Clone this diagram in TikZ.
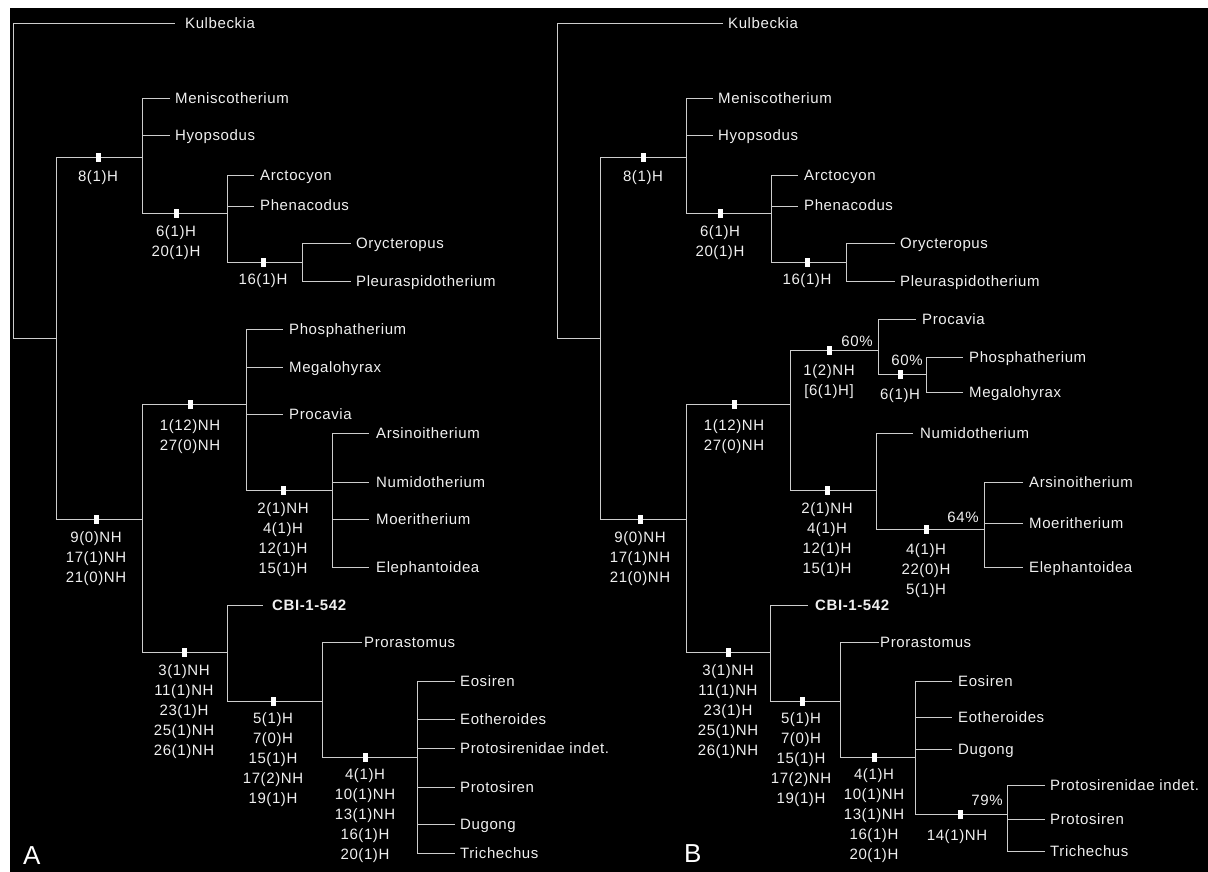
\documentclass[tikz,border=0pt]{standalone}
\usepackage{fontspec}
\setmainfont{Liberation Sans}
\newfontfamily\cladefam{Liberation Sans}[LetterSpace=4]
\definecolor{linec}{RGB}{205,205,205}
\definecolor{txtc}{RGB}{240,240,240}
\tikzset{
  br/.style={draw=linec, line width=1pt},
  mk/.style={fill=white, draw=none, minimum width=5pt, minimum height=9pt, inner sep=0pt},
  lf/.style={anchor=base west, inner sep=0pt, text=txtc, font=\cladefam\fontsize{15}{20}\selectfont},
  ch/.style={anchor=north, align=center, inner sep=0pt, text=txtc, font=\cladefam\fontsize{15}{20}\selectfont},
  pc/.style={anchor=base, inner sep=0pt, text=txtc, font=\cladefam\fontsize{15}{20}\selectfont},
  panel/.style={anchor=base west, inner sep=0pt, text=white, font=\fontsize{26}{26}\selectfont}
}
\newcommand\tleaf[6]{%
  \coordinate (#1e) at (#4,#3);
  \draw[br] (#2) |- (#1e);
  \node[lf] (#1) at (#5,#3+5) {#6};}
\newcommand\tnode[5]{%
  \coordinate (#1) at (#3,#4);
  \draw[br] (#2) |- (#1);
  \node[mk] (#1m) at (#5,#4) {};}
\begin{document}
\begin{tikzpicture}[x=1pt,y=-1pt]
\useasboundingbox (0,0) rectangle (1208,872);
\fill[white] (0,0) rectangle (1208,872);
\fill[black] (10,8) rectangle (1208,872);

% ---------------- Tree A ----------------
\coordinate (RA) at (13,338);
\coordinate (IA) at (56,338);
\draw[br] (RA) -- (IA);
\tleaf{kA}{RA}{24}{175}{185}{Kulbeckia}
\tnode{A8}{IA}{142}{158}{98}
\tleaf{menA}{A8}{99}{170}{175}{Meniscotherium}
\tleaf{hyoA}{A8}{136}{170}{175}{Hyopsodus}
\tnode{A6}{A8}{227}{213}{176}
\tleaf{arcA}{A6}{176}{254}{260}{Arctocyon}
\tleaf{pheA}{A6}{206}{254}{260}{Phenacodus}
\tnode{A16}{A6}{302}{262}{263}
\tleaf{oryA}{A16}{243}{351}{356}{Orycteropus}
\tleaf{pleA}{A16}{281}{351}{356}{Pleuraspidotherium}
\tnode{A9}{IA}{142}{519}{96}
\tnode{A1}{A9}{246}{404}{190}
\tleaf{phoA}{A1}{329}{283}{289}{Phosphatherium}
\tleaf{megA}{A1}{367}{283}{289}{Megalohyrax}
\tleaf{proA}{A1}{414}{283}{289}{Procavia}
\tnode{A2}{A1}{332}{490}{283}
\tleaf{arsA}{A2}{433}{369}{376}{Arsinoitherium}
\tleaf{numA}{A2}{482}{369}{376}{Numidotherium}
\tleaf{moeA}{A2}{519}{369}{376}{Moeritherium}
\tleaf{eleA}{A2}{567}{369}{376}{Elephantoidea}
\tnode{A3}{A9}{227}{652}{184}
\tleaf{cbiA}{A3}{605}{263}{272}{\bfseries CBI-1-542}
\tnode{A5}{A3}{322}{701}{273}
\tleaf{prrA}{A5}{642}{362}{364}{Prorastomus}
\tnode{A4}{A5}{417}{757}{365}
\tleaf{eosA}{A4}{681}{455}{460}{Eosiren}
\tleaf{eotA}{A4}{719}{455}{460}{Eotheroides}
\tleaf{psiA}{A4}{748}{455}{460}{Protosirenidae indet.}
\tleaf{prsA}{A4}{787}{455}{460}{Protosiren}
\tleaf{dugA}{A4}{824}{455}{460}{Dugong}
\tleaf{triA}{A4}{853}{455}{460}{Trichechus}

\node[ch] (A8c) at (98,170) {8(1)H};
\node[ch] (A6c) at (176,225) {6(1)H\\20(1)H};
\node[ch] (A16c) at (263,273) {16(1)H};
\node[ch] (A9c) at (96,531) {9(0)NH\\17(1)NH\\21(0)NH};
\node[ch] (A1c) at (190,419) {1(12)NH\\27(0)NH};
\node[ch] (A2c) at (283,502) {2(1)NH\\4(1)H\\12(1)H\\15(1)H};
\node[ch] (A3c) at (184,664) {3(1)NH\\11(1)NH\\23(1)H\\25(1)NH\\26(1)NH};
\node[ch] (A5c) at (273,712) {5(1)H\\7(0)H\\15(1)H\\17(2)NH\\19(1)H};
\node[ch] (A4c) at (365,768) {4(1)H\\10(1)NH\\13(1)NH\\16(1)H\\20(1)H};
\node[panel] (labA) at (23,864) {A};

% ---------------- Tree B ----------------
\coordinate (RB) at (557,338);
\coordinate (IB) at (600,338);
\draw[br] (RB) -- (IB);
\tleaf{kB}{RB}{24}{723}{728}{Kulbeckia}
\tnode{B8}{IB}{686}{158}{643}
\tleaf{menB}{B8}{99}{713}{718}{Meniscotherium}
\tleaf{hyoB}{B8}{136}{713}{718}{Hyopsodus}
\tnode{B6}{B8}{771}{213}{720}
\tleaf{arcB}{B6}{176}{798}{804}{Arctocyon}
\tleaf{pheB}{B6}{206}{798}{804}{Phenacodus}
\tnode{B16}{B6}{846}{262}{807}
\tleaf{oryB}{B16}{243}{895}{900}{Orycteropus}
\tleaf{pleB}{B16}{281}{895}{900}{Pleuraspidotherium}
\tnode{B9}{IB}{686}{519}{640}
\tnode{B1}{B9}{790}{404}{734}
\tnode{B1b}{B1}{878}{350}{829}
\tleaf{proB}{B1b}{319}{916}{922}{Procavia}
\tnode{B6b}{B1b}{926}{374}{900}
\tleaf{phoB}{B6b}{357}{963}{969}{Phosphatherium}
\tleaf{megB}{B6b}{392}{963}{969}{Megalohyrax}
\tnode{B2}{B1}{876}{490}{827}
\tleaf{numB}{B2}{433}{913}{920}{Numidotherium}
\tnode{B4b}{B2}{984}{529}{926}
\tleaf{arsB}{B4b}{482}{1023}{1029}{Arsinoitherium}
\tleaf{moeB}{B4b}{523}{1023}{1029}{Moeritherium}
\tleaf{eleB}{B4b}{567}{1023}{1029}{Elephantoidea}
\tnode{B3}{B9}{770}{652}{728}
\tleaf{cbiB}{B3}{605}{808}{815}{\bfseries CBI-1-542}
\tnode{B5}{B3}{840}{701}{802}
\tleaf{prrB}{B5}{642}{879}{880}{Prorastomus}
\tnode{B4}{B5}{915}{757}{874}
\tleaf{eosB}{B4}{681}{952}{958}{Eosiren}
\tleaf{eotB}{B4}{717}{952}{958}{Eotheroides}
\tleaf{dugB}{B4}{749}{952}{958}{Dugong}
\tnode{B14}{B4}{1007}{814}{960}
\tleaf{psiB}{B14}{785}{1045}{1050}{Protosirenidae indet.}
\tleaf{prsB}{B14}{819}{1045}{1050}{Protosiren}
\tleaf{triB}{B14}{851}{1045}{1050}{Trichechus}

\node[ch] (B8c) at (643,170) {8(1)H};
\node[ch] (B6c) at (720,225) {6(1)H\\20(1)H};
\node[ch] (B16c) at (807,273) {16(1)H};
\node[ch] (B9c) at (640,531) {9(0)NH\\17(1)NH\\21(0)NH};
\node[ch] (B1c) at (734,419) {1(12)NH\\27(0)NH};
\node[ch] (B1bc) at (829,364) {1(2)NH\\{[}6(1)H{]}};
\node[ch] (B6bc) at (900,388) {6(1)H};
\node[ch] (B2c) at (827,502) {2(1)NH\\4(1)H\\12(1)H\\15(1)H};
\node[ch] (B4bc) at (926,543) {4(1)H\\22(0)H\\5(1)H};
\node[ch] (B3c) at (728,664) {3(1)NH\\11(1)NH\\23(1)H\\25(1)NH\\26(1)NH};
\node[ch] (B5c) at (801,712) {5(1)H\\7(0)H\\15(1)H\\17(2)NH\\19(1)H};
\node[ch] (B4c) at (874,768) {4(1)H\\10(1)NH\\13(1)NH\\16(1)H\\20(1)H};
\node[ch] (B14c) at (957,829) {14(1)NH};
\node[pc] (pB1b) at (857,346) {60\%};
\node[pc] (pB6b) at (907,365) {60\%};
\node[pc] (pB4b) at (963,522) {64\%};
\node[pc] (pB14) at (987,805) {79\%};
\node[panel] (labB) at (684,862) {B};
\end{tikzpicture}
\end{document}
